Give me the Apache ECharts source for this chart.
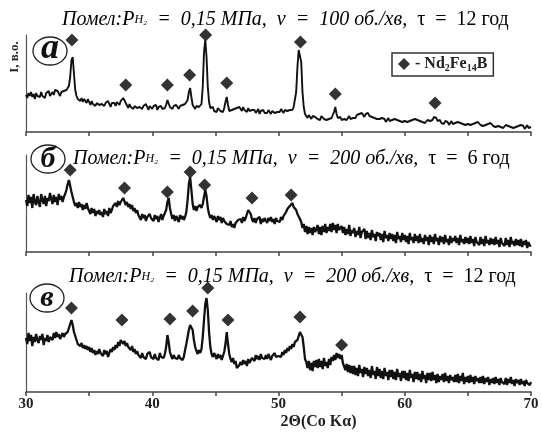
<!DOCTYPE html>
<html>
<head>
<meta charset="utf-8">
<script src="https://cdn.jsdelivr.net/npm/echarts@6/dist/echarts.min.js"></script>
<style>html,body{margin:0;padding:0;background:#fff}#c{width:542px;height:437px}</style>
</head>
<body>
<div id="c"></div>
<script>
// 2θ grid: 30.0 … 70.0 deg, step 0.1
const thetaStart = 30, thetaStep = 0.1;
const tickLabels = [30, 40, 50, 60, 70];

// (а) 100 об./хв, 12 год — intensity, arb. units
const intensityA = [
37,34,39,36,40,35,38,33,39,36,
38,35,40,36,37,34,39,37,41,36,
38,40,37,42,44,41,39,36,40,38,
41,39,42,40,46,55,72,75,58,42,
36,33,35,31,34,30,33,32,29,33,
30,27,31,28,30,26,29,31,27,29,
28,30,26,29,27,31,28,25,29,27,
29,26,30,28,27,31,30,34,35,29,
27,24,28,25,27,23,26,28,24,26,
25,27,23,26,24,28,25,22,26,24,
23,26,24,27,22,25,24,26,23,25,
24,27,32,30,25,27,23,26,24,27,
25,23,26,24,27,25,28,26,32,40,
44,35,27,25,23,26,24,25,23,28,
45,80,92,75,45,30,24,22,25,21,
23,20,24,22,21,23,20,24,30,35,
27,21,19,22,20,23,21,24,22,25,
24,21,25,22,23,20,24,21,19,22,
20,22,19,21,23,18,21,20,22,19,
21,19,22,20,18,21,23,19,21,20,
22,20,23,21,19,22,24,21,23,22,
24,22,25,26,40,65,82,84,70,40,
25,18,16,14,17,15,13,16,14,15,
16,13,15,12,16,14,13,15,12,14,
13,15,14,16,20,25,18,14,13,15,
12,14,13,15,12,14,16,13,15,14,
16,14,17,15,18,16,19,17,15,18,
17,19,16,18,15,17,14,16,13,15,
13,11,14,12,13,10,12,14,11,13,
12,10,13,11,12,14,11,13,10,12,
11,13,10,12,11,9,12,10,13,11,
12,10,11,13,10,12,9,11,12,10,
11,13,12,15,17,14,11,10,12,9,
10,8,11,9,10,7,9,11,8,10,
9,7,10,8,9,11,8,10,7,9,
8,10,7,9,8,6,9,7,10,8,
7,9,6,8,7,5,8,6,9,7,
6,8,5,7,6,8,5,7,4,6,
7,5,6,8,5,7,4,6,5,7,
6,4,7,5,6,3,5,7,4,6,
5];

// (б) 200 об./хв, 6 год
const intensityB = [
52,46,57,49,55,44,58,50,47,56,
50,45,58,52,48,56,46,54,51,59,
53,48,57,50,55,47,58,52,56,50,
55,58,62,68,72,66,60,55,50,46,
49,44,50,45,48,42,47,43,49,44,
42,38,44,39,43,36,41,38,42,37,
40,35,43,38,41,36,44,39,42,46,
44,49,45,51,47,50,48,54,52,47,
50,45,48,43,47,41,44,39,42,37,
36,32,38,34,37,31,35,33,38,34,
35,31,37,33,36,30,34,38,32,36,
34,42,50,54,44,38,33,37,31,36,
34,30,37,33,36,32,35,40,52,68,
75,62,48,42,46,41,45,43,47,44,
48,55,62,56,44,38,34,37,32,36,
33,30,36,32,35,29,34,31,33,28,
30,27,31,25,28,24,29,27,32,30,
33,29,35,31,34,38,42,44,38,33,
30,34,29,33,31,35,28,33,30,34,
32,29,34,31,35,30,33,28,34,31,
33,30,35,32,36,34,40,43,41,46,
44,49,45,47,42,38,36,33,30,24,
28,20,26,18,25,19,24,17,25,20,
23,27,18,25,17,26,20,28,19,25,
21,28,20,29,22,27,19,28,22,20,
26,19,25,17,23,18,27,16,22,19,
24,15,21,17,25,14,20,18,23,13,
21,14,19,12,22,15,18,11,20,16,
19,12,18,10,21,14,17,11,19,13,
18,11,17,9,20,13,16,10,19,12,
17,10,16,8,19,12,15,9,18,11,
16,9,18,10,14,8,17,11,15,7,
17,10,15,8,18,11,14,7,16,10,
15,8,17,10,13,7,16,9,14,11,
16,9,14,7,17,10,13,8,15,9,
14,8,16,9,13,6,15,10,12,7,
15,8,13,6,16,9,12,7,14,8,
13,7,15,8,12,5,14,9,11,6,
14,7,12,5,15,8,11,6,13,7,
12,6,13,5,11,7,12,4,10,6,
7];

// (в) 200 об./хв, 12 год
const intensityC = [
54,48,59,51,57,46,55,50,58,52,
49,56,52,58,47,54,51,57,50,55,
57,52,59,54,60,55,58,53,56,59,
55,58,57,60,64,68,72,67,60,56,
52,48,50,46,49,44,47,43,46,42,
45,40,44,39,42,37,41,38,43,39,
40,36,42,38,41,35,39,43,40,45,
42,47,44,50,46,52,54,48,51,46,
49,45,47,42,46,40,43,38,41,37,
38,34,39,35,37,33,38,36,40,35,
37,33,38,34,36,32,39,35,37,34,
38,45,57,50,40,36,33,37,34,36,
33,37,34,36,32,35,42,48,55,62,
67,69,62,52,45,41,38,42,39,43,
55,72,88,94,82,60,45,38,35,39,
36,33,38,34,37,32,36,40,48,60,
48,38,33,30,34,28,31,24,22,27,
30,27,32,28,31,26,33,29,31,34,
35,31,37,33,36,32,38,34,36,33,
37,33,38,35,32,36,34,39,35,37,
36,38,35,40,37,42,39,44,41,46,
43,48,45,50,49,52,56,60,62,55,
45,33,30,24,31,22,29,21,31,25,
32,24,33,25,31,23,34,26,30,24,
33,27,35,31,37,32,39,34,38,33,
37,29,31,22,28,20,27,19,26,18,
26,17,24,16,27,19,23,15,25,18,
24,16,22,14,26,17,21,13,25,16,
23,14,21,13,24,16,20,12,22,15,
22,13,20,12,23,15,19,11,21,14,
21,12,19,11,22,14,18,10,20,13,
20,12,18,10,21,13,17,9,19,12,
19,11,20,12,17,9,18,10,16,12,
18,10,19,11,16,9,17,12,15,10,
17,10,18,9,16,11,19,8,15,10,
16,9,17,10,15,8,16,11,14,9,
15,9,16,8,14,10,15,7,13,9,
14,8,15,9,13,7,14,10,12,8,
14,7,13,9,15,8,12,6,13,9,
12,7,13,8,11,6,12,9,10,7,
10];

// Nd2Fe14B reflection markers (2θ, marker height)
const markTheta = [
  [33.64, 37.9, 41.2, 42.96, 44.23, 45.9, 51.74, 54.5, 62.4],
  [33.5, 37.8, 41.2, 43.0, 44.15, 47.9, 51.0],
  [33.6, 37.6, 41.4, 43.2, 44.4, 46.0, 51.7, 55.0]
];
const markHeight = [
  [92, 47, 47, 57, 97, 49, 90, 38, 29],
  [82, 64, 60, 80, 67, 54, 57],
  [84, 72, 73, 81, 104, 72, 75, 47]
];

const panelLetters = ['а', 'б', 'в'];
const panelTitles = [
  ['100', '12'],
  ['200', '6'],
  ['200', '12']
];

const chart = echarts.init(document.getElementById('c'), null, {renderer: 'canvas'});
const serif = 'Liberation Serif';
const intensities = [intensityA, intensityB, intensityC];
const gridTops = [35, 155, 293];
const gridHeights = [97, 97, 99];
const traceWidths = [1.9, 2.3, 2.3];

const grids = [], xAxes = [], yAxes = [], series = [];
for (let g = 0; g < 3; g++) {
  grids.push({left: 26, right: 11, top: gridTops[g], height: gridHeights[g]});
  xAxes.push({
    type: 'value', gridIndex: g, min: 30, max: 70, interval: 5,
    axisLine: {lineStyle: {color: '#444', width: 1.5}},
    axisTick: {length: 4, lineStyle: {color: '#444', width: 1.5}},
    splitLine: {show: false},
    axisLabel: {
      show: g === 2, margin: 5,
      formatter: v => (tickLabels.indexOf(v) >= 0 ? String(v) : ''),
      fontFamily: serif, fontWeight: 'bold', fontSize: 15, color: '#222'
    },
    name: g === 2 ? '2Θ(Co Kα)' : '', nameLocation: 'middle', nameGap: 22,
    nameTextStyle: {fontFamily: serif, fontWeight: 'bold', fontSize: 16, color: '#222', padding: [0, 0, 0, 80]}
  });
  yAxes.push({
    type: 'value', gridIndex: g, min: 0, max: gridHeights[g],
    axisLine: {show: true, lineStyle: {color: '#555', width: 1.2}},
    axisTick: {show: false}, axisLabel: {show: false}, splitLine: {show: false}
  });
  series.push({
    type: 'line', xAxisIndex: g, yAxisIndex: g, showSymbol: false, symbol: 'none',
    lineStyle: {color: '#111', width: traceWidths[g], join: 'bevel'}, animation: false,
    data: intensities[g].map((v, i) => [+(thetaStart + i * thetaStep).toFixed(1), v])
  });
  series.push({
    type: 'scatter', name: 'Nd2Fe14B', xAxisIndex: g, yAxisIndex: g, clip: false,
    symbol: 'diamond', symbolSize: [13, 13], itemStyle: {color: '#000'}, animation: false,
    data: markTheta[g].map((t, i) => [t, markHeight[g][i]])
  });
}

const titleRich = {
  i: {fontFamily: serif, fontStyle: 'italic', fontSize: 20, color: '#222', lineHeight: 22},
  s: {fontFamily: serif, fontStyle: 'italic', fontSize: 12, color: '#222', lineHeight: 22, verticalAlign: 'middle'},
  u: {fontFamily: serif, fontSize: 20, color: '#222', lineHeight: 22}
};
const titlePos = [[62, 19], [73, 158], [69, 276]];
const letterPos = [[50, 51], [48, 159], [47, 298]];
const letterFont = ['italic bold 36px "Liberation Serif"', 'italic bold 30px "Liberation Serif"', 'italic bold 30px "Liberation Serif"'];
const sp = '\u2002';

const graphics = [];
for (let g = 0; g < 3; g++) {
  graphics.push({
    type: 'text', left: titlePos[g][0], top: titlePos[g][1] - 9,
    style: {
      text: '{i|Помел:P}{s|H₂}{i|' + sp + '=' + sp + '0,15 МПа,' + sp + 'v' + sp + '=' + sp + panelTitles[g][0] + ' об./хв,' + sp + '}{u|τ' + sp + '=' + sp + panelTitles[g][1] + ' год}',
      rich: titleRich
    }
  });
  graphics.push({
    type: 'ellipse', shape: {cx: letterPos[g][0], cy: letterPos[g][1], rx: 17, ry: 14},
    style: {fill: '#fff', stroke: '#222', lineWidth: 1.3}
  });
  graphics.push({
    type: 'text', x: letterPos[g][0], y: letterPos[g][1] + (g === 0 ? -2 : 0),
    style: {
      text: panelLetters[g], fill: '#111', align: 'center', verticalAlign: 'middle',
      font: letterFont[g]
    }
  });
}
graphics.push({
  type: 'text', x: 15, y: 57, rotation: Math.PI / 2,
  style: {text: 'I, в.о.', fill: '#222', align: 'center', verticalAlign: 'middle', font: 'bold 13px "Liberation Serif"'}
});

chart.setOption({
  animation: false,
  backgroundColor: '#fff',
  grid: grids, xAxis: xAxes, yAxis: yAxes, series: series,
  legend: {
    data: [{name: 'Nd2Fe14B', icon: 'diamond'}],
    left: 392, top: 53, orient: 'horizontal',
    itemWidth: 12, itemHeight: 12, itemGap: 4,
    padding: [3, 6, 3, 6], borderColor: '#333', borderWidth: 1.5, backgroundColor: '#fff',
    selectedMode: false,
    formatter: () => '{m|- Nd}{s|2}{m|Fe}{s|14}{m|B}',
    textStyle: {
      rich: {
        m: {fontFamily: serif, fontWeight: 'bold', fontSize: 16, color: '#222', lineHeight: 18},
        s: {fontFamily: serif, fontWeight: 'bold', fontSize: 10, color: '#222', lineHeight: 10, verticalAlign: 'bottom'}
      }
    }
  },
  graphic: graphics
});
</script>
</body>
</html>
